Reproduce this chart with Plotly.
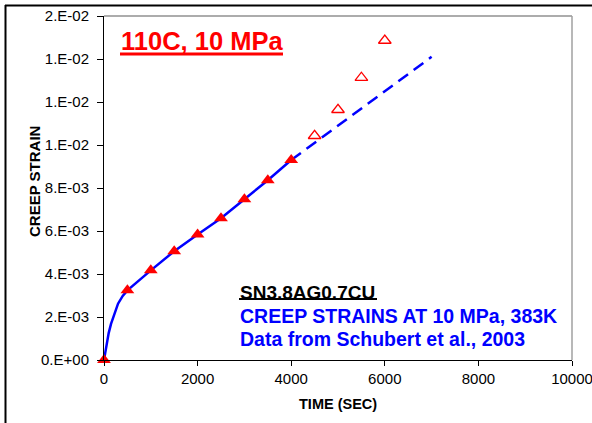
import plotly.graph_objects as go

# ---- data ----
test_time_filled = [0, 500, 1000, 1500, 2000, 2500, 3000, 3500, 4000]
test_strain_filled = [0.0, 0.00324, 0.00417, 0.00506, 0.00584, 0.00659, 0.00748, 0.00836, 0.00930]

test_time_open = [4500, 5000, 5500, 6000]
test_strain_open = [0.01043, 0.01164, 0.01313, 0.01486]

model_time = [0, 25, 50, 100, 150, 200, 300, 400, 500, 1000, 1500, 2000, 2500, 3000, 3500, 4000]
model_strain = [0.0, 0.00035, 0.00065, 0.00125, 0.00168, 0.00203, 0.00262, 0.00298, 0.00324,
                0.00417, 0.00506, 0.00584, 0.00659, 0.00748, 0.00836, 0.00930]

extrap_time = [4000, 7000]
extrap_strain = [0.00930, 0.01410]

x_ticks = [0, 2000, 4000, 6000, 8000, 10000]
x_ticktext = ["0", "2000", "4000", "6000", "8000", "10000"]
y_ticks = [0, 0.002, 0.004, 0.006, 0.008, 0.010, 0.012, 0.014, 0.016]
y_ticktext = ["0.E+00", "2.E-03", "4.E-03", "6.E-03", "8.E-03", "1.E-02", "1.E-02", "1.E-02", "2.E-02"]

FONT = "Arial, Liberation Sans, sans-serif"
W, H = 592, 423
L, R, T, B = 104, 20, 16, 63
PW, PH = W - L - R, H - T - B


def px(x):
    return (x - L) / PW


def py(y):
    return (H - B - y) / PH


fig = go.Figure()
fig.add_trace(go.Scatter(x=model_time, y=model_strain, mode="lines",
                         line=dict(color="#0000FF", width=2.5), cliponaxis=False, showlegend=False))
fig.add_trace(go.Scatter(x=extrap_time, y=extrap_strain, mode="lines",
                         line=dict(color="#0000FF", width=2.5, dash="12px,7px"), showlegend=False))
fig.add_trace(go.Scatter(x=test_time_filled, y=test_strain_filled, mode="markers",
                         marker=dict(symbol="triangle-up", size=12, color="#FF0000"),
                         cliponaxis=False, showlegend=False))
fig.add_trace(go.Scatter(x=test_time_open, y=test_strain_open, mode="markers",
                         marker=dict(symbol="triangle-up-open", size=11, color="#FF0000",
                                     line=dict(width=1.3, color="#FF0000")),
                         cliponaxis=False, showlegend=False))

fig.update_xaxes(range=[0, 10000], tickvals=x_ticks, ticktext=x_ticktext, ticks="outside", ticklen=5,
                 tickcolor="black", showline=True, linecolor="black", linewidth=1,
                 showgrid=False, zeroline=False, ticklabeloverflow="allow", automargin=False,
                 tickfont=dict(family=FONT, size=15, color="black"))
fig.update_yaxes(range=[0, 0.016], tickvals=y_ticks, ticktext=y_ticktext, ticks="outside",
                 ticklen=6, tickcolor="black", showline=True, linecolor="black", linewidth=1,
                 showgrid=False, zeroline=False, ticklabeloverflow="allow", automargin=False,
                 ticklabelstandoff=5,
                 tickfont=dict(family=FONT, size=15, color="black"))

shapes = [
    # plot-area border (top/right gray)
    dict(type="line", xref="paper", yref="paper", x0=0, x1=1, y0=1, y1=1,
         line=dict(color="#909090", width=1.5)),
    dict(type="line", xref="paper", yref="paper", x0=1, x1=1, y0=0, y1=1,
         line=dict(color="#A0A0A0", width=1.5)),
    # outer chart frame
    dict(type="line", xref="paper", yref="paper", x0=px(5), x1=px(600), y0=py(5.5), y1=py(5.5),
         line=dict(color="black", width=2)),
    dict(type="line", xref="paper", yref="paper", x0=px(5.5), x1=px(5.5), y0=py(5), y1=py(430),
         line=dict(color="black", width=2)),
    # underlines
    dict(type="line", xref="paper", yref="paper", x0=px(120), x1=px(283), y0=py(54), y1=py(54),
         line=dict(color="#FF0000", width=3)),
    dict(type="line", xref="paper", yref="paper", x0=px(239), x1=px(377), y0=py(299), y1=py(299),
         line=dict(color="black", width=2)),
]

annotations = [
    dict(text="<b>110C, 10 MPa</b>", x=px(119), y=py(41), xref="paper", yref="paper",
         xanchor="left", yanchor="middle", showarrow=False,
         font=dict(family=FONT, size=25.5, color="#FF0000")),
    dict(text="<b>SN3.8AG0.7CU</b>", x=px(238), y=py(292), xref="paper", yref="paper",
         xanchor="left", yanchor="middle", showarrow=False,
         font=dict(family=FONT, size=19, color="black")),
    dict(text="<b>CREEP STRAINS AT 10 MPa, 383K</b>", x=px(238), y=py(316), xref="paper", yref="paper",
         xanchor="left", yanchor="middle", showarrow=False,
         font=dict(family=FONT, size=19.5, color="#0000FF")),
    dict(text="<b>Data from Schubert et al., 2003</b>", x=px(238), y=py(339), xref="paper", yref="paper",
         xanchor="left", yanchor="middle", showarrow=False,
         font=dict(family=FONT, size=19.5, color="#0000FF")),
    dict(text="<b>TIME (SEC)</b>", x=px(338), y=py(404), xref="paper", yref="paper",
         xanchor="center", yanchor="middle", showarrow=False,
         font=dict(family=FONT, size=14.5, color="black")),
    dict(text="<b>CREEP STRAIN</b>", x=px(34), y=py(182), xref="paper", yref="paper",
         xanchor="center", yanchor="middle", showarrow=False, textangle=-90,
         font=dict(family=FONT, size=15, color="black")),
]

fig.update_layout(width=W, height=H, margin=dict(l=L, r=R, t=T, b=B, pad=0),
                  paper_bgcolor="white", plot_bgcolor="white",
                  shapes=shapes, annotations=annotations, showlegend=False)

fig.write_html("out.html", config={"displayModeBar": False},
               post_script="document.body.style.margin='0px';")
